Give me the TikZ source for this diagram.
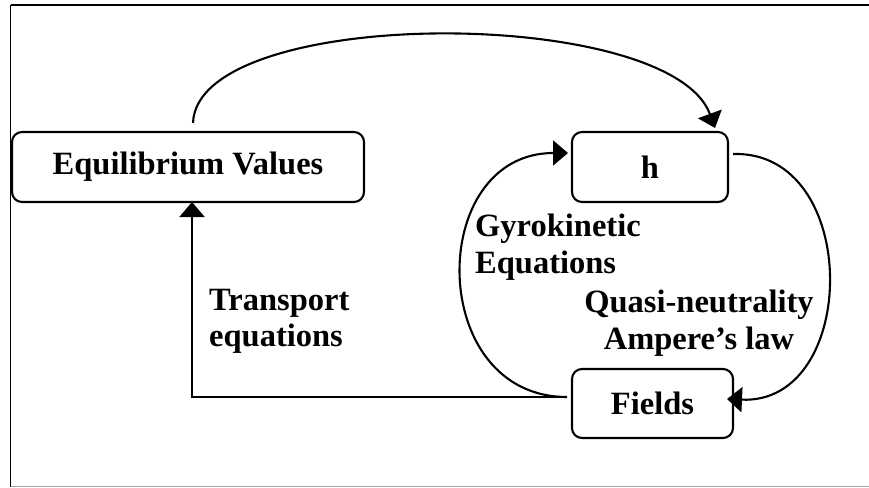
\documentclass[tikz,border=0pt]{standalone}
\usepackage{fontspec}
\setmainfont{Liberation Serif}
\usetikzlibrary{arrows.meta}
\begin{document}
\begin{tikzpicture}[x=1pt,y=-1pt,
  box/.style={draw,line width=2.1pt,rounded corners=10pt,inner sep=0pt,font=\fontsize{32.5}{36.5}\selectfont\bfseries},
  lbl/.style={inner sep=0pt,font=\fontsize{32.5}{36.5}\selectfont\bfseries},
  conn/.style={line width=2.1pt,-{Triangle[length=15pt,width=25pt]}}]
\useasboundingbox (0,0) rectangle (869,487);
% frame
\draw[line width=1.8pt] (10.5,5) -- (869,5);
\draw[line width=1.8pt] (10.5,5) -- (10.5,486.5);
\draw[line width=1.4pt,gray!70] (10.5,486.5) -- (869,486.5);
% nodes
\node[box,minimum width=352pt,minimum height=70pt] (eq) at (188,167) {Equilibrium Values};
\node[box,minimum width=156pt,minimum height=70pt] (h) at (650,167) {h};
\node[box,minimum width=161pt,minimum height=69pt] (f) at (652.5,403.5) {Fields};
% labels
\node[lbl,anchor=north west,align=left] (gk) at (475,214) {Gyrokinetic\\Equations};
\node[lbl,anchor=north west,align=left] (tr) at (209,289) {Transport\\equations};
\node[lbl,anchor=north,align=center] (qn) at (699,290) {Quasi-neutrality\\Ampere’s law};
% connectors
\coordinate (eqtop) at (193,123);
\coordinate (htop) at (715,128);
\coordinate (fw) at (567,397);
\coordinate (eqb) at (192,202);
\coordinate (hw) at (568,153);
\coordinate (he) at (733,154);
\coordinate (fe) at (727,399);
\draw[conn] (eqtop) .. controls (197,5) and (670,5) .. (htop);
\draw[conn] (fw) -| (eqb);
\draw[conn] (fw) .. controls (426,397) and (426,153) .. (hw);
\draw[conn] (he) .. controls (862,150) and (860,405) .. (fe);
\end{tikzpicture}
\end{document}
